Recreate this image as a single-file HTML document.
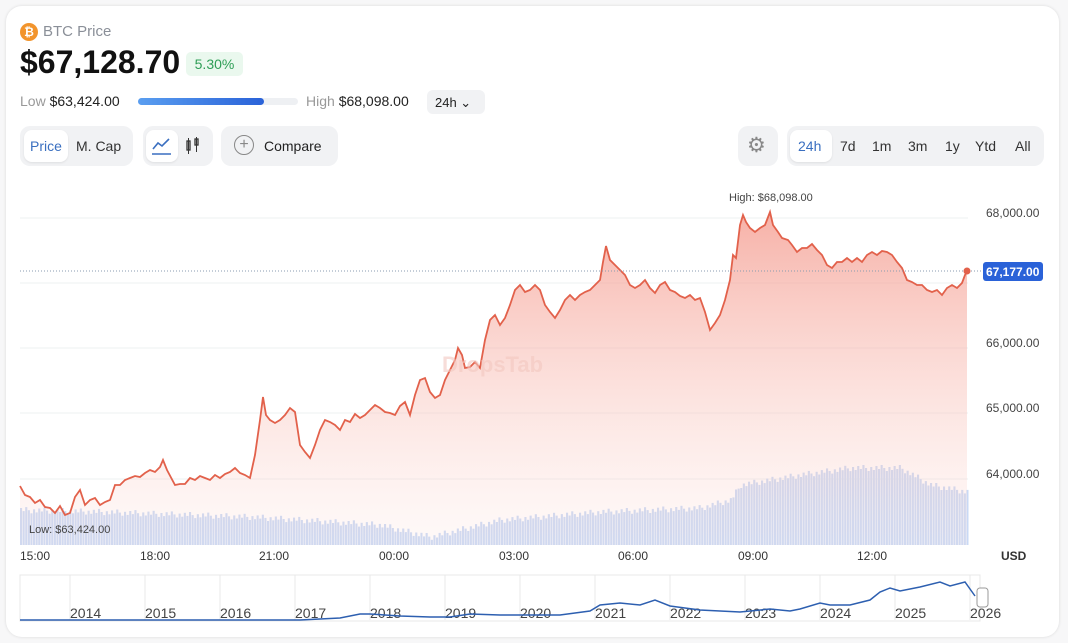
<!DOCTYPE html>
<html><head><meta charset="utf-8"><style>
body{margin:0;width:1068px;height:643px;background:#f7f7f8;font-family:"Liberation Sans",sans-serif;overflow:hidden;position:relative}
.card{position:absolute;left:6px;top:6px;width:1053px;height:631px;background:#fff;border-radius:16px;box-shadow:0 0 3px rgba(0,0,0,.12)}
.a{position:absolute;white-space:nowrap}
.pill{position:absolute;background:#f1f2f4;border-radius:10px}
.sel{position:absolute;background:#fff;border-radius:8px;box-shadow:0 1px 2px rgba(0,0,0,.08)}
</style></head><body>
<div class="card"></div>
<div class="a" style="left:20px;top:23px;width:18px;height:18px;border-radius:50%;background:#f2942c;color:#fff;font-size:12px;font-weight:bold;text-align:center;line-height:18px">₿</div>
<div class="a" style="left:43px;top:23px;font-size:15px;color:#8a8f98">BTC Price</div>
<div class="a" style="left:20px;top:44px;font-size:32px;font-weight:bold;color:#111">$67,128.70</div>
<div class="a" style="left:186px;top:52px;width:57px;height:24px;background:#eaf8ee;border-radius:5px;color:#2e9e56;font-size:14px;text-align:center;line-height:24px">5.30%</div>
<div class="a" style="left:20px;top:93px;font-size:14px;color:#999">Low <span style="color:#222">$63,424.00</span></div>
<div class="a" style="left:138px;top:98px;width:160px;height:7px;background:#eef0f3;border-radius:4px"></div>
<div class="a" style="left:138px;top:98px;width:126px;height:7px;background:linear-gradient(90deg,#5a9ef0,#2a62d8);border-radius:4px"></div>
<div class="a" style="left:306px;top:93px;font-size:14px;color:#999">High <span style="color:#222">$68,098.00</span></div>
<div class="pill" style="left:427px;top:90px;width:58px;height:24px;border-radius:6px"></div>
<div class="a" style="left:435px;top:95px;font-size:13px;color:#222">24h ⌄</div>

<div class="pill" style="left:20px;top:126px;width:113px;height:40px"></div>
<div class="sel" style="left:24px;top:130px;width:44px;height:32px"></div>
<div class="a" style="left:30px;top:138px;font-size:14px;color:#3a6fc0">Price</div>
<div class="a" style="left:76px;top:138px;font-size:14px;color:#333">M. Cap</div>
<div class="pill" style="left:143px;top:126px;width:70px;height:40px"></div>
<div class="sel" style="left:146px;top:130px;width:32px;height:32px"></div>
<svg class="a" style="left:150px;top:135px" width="24" height="22"><polyline points="3,14 8,8 12,11 19,4" fill="none" stroke="#3a6fc0" stroke-width="1.6"/><line x1="2" y1="19" x2="21" y2="19" stroke="#3a6fc0" stroke-width="1.6"/></svg>
<svg class="a" style="left:185px;top:136px" width="16" height="20"><rect x="2" y="5" width="3" height="9" fill="none" stroke="#333" stroke-width="1.3"/><line x1="3.5" y1="2" x2="3.5" y2="18" stroke="#333"/><rect x="10" y="3" width="3" height="6" fill="none" stroke="#333" stroke-width="1.3"/><line x1="11.5" y1="1" x2="11.5" y2="16" stroke="#333"/></svg>
<div class="pill" style="left:221px;top:126px;width:117px;height:40px"></div>
<div class="a" style="left:234px;top:135px;width:18px;height:18px;border:1.5px solid #888;border-radius:50%;color:#888;text-align:center;line-height:18px;font-size:16px">+</div>
<div class="a" style="left:264px;top:138px;font-size:14px;color:#222">Compare</div>

<div class="pill" style="left:738px;top:126px;width:40px;height:40px"></div>
<div class="a" style="left:747px;top:133px;font-size:21px;color:#888">⚙</div>
<div class="pill" style="left:787px;top:126px;width:257px;height:40px"></div>
<div class="sel" style="left:790px;top:130px;width:42px;height:32px"></div>
<div class="a" style="left:798px;top:138px;font-size:14px;color:#3a6fc0">24h</div>
<div class="a" style="left:840px;top:138px;font-size:14px;color:#333">7d</div>
<div class="a" style="left:872px;top:138px;font-size:14px;color:#333">1m</div>
<div class="a" style="left:908px;top:138px;font-size:14px;color:#333">3m</div>
<div class="a" style="left:945px;top:138px;font-size:14px;color:#333">1y</div>
<div class="a" style="left:975px;top:138px;font-size:14px;color:#333">Ytd</div>
<div class="a" style="left:1015px;top:138px;font-size:14px;color:#333">All</div>

<svg class="a" style="left:0;top:0" width="1068" height="643" id="s">
<defs><linearGradient id="g" x1="0" y1="0" x2="0" y2="1"><stop offset="0" stop-color="#f4978a" stop-opacity=".75"/><stop offset="1" stop-color="#fbd9d3" stop-opacity=".15"/></linearGradient></defs>
<g stroke="#eef0f2" stroke-width="1"><line x1="20" y1="218" x2="968" y2="218"/><line x1="20" y1="283" x2="968" y2="283"/><line x1="20" y1="348" x2="968" y2="348"/><line x1="20" y1="413" x2="968" y2="413"/><line x1="20" y1="479" x2="968" y2="479"/></g>
<g id="bars" fill="#c9d9f5"></g>
<path id="area" fill="url(#g)"/>
<polyline id="ln" fill="none" stroke="#e2614b" stroke-width="1.8"/>
<line x1="20" y1="271" x2="982" y2="271" stroke="#8a9bb0" stroke-dasharray="1,2"/>
<circle cx="967" cy="271" r="3.5" fill="#e2614b"/>
<text x="442" y="372" font-size="22" font-weight="bold" fill="#f3c8c0" opacity=".6">DropsTab</text>
<g font-size="12" fill="#444" font-family="Liberation Sans"><text x="986" y="217">68,000.00</text><text x="986" y="347">66,000.00</text><text x="986" y="412">65,000.00</text><text x="986" y="478">64,000.00</text>
<text x="729" y="201" font-size="11">High: $68,098.00</text><text x="29" y="533" font-size="11">Low: $63,424.00</text>
<g fill="#333"><text x="20" y="560">15:00</text><text x="140" y="560">18:00</text><text x="259" y="560">21:00</text><text x="379" y="560">00:00</text><text x="499" y="560">03:00</text><text x="618" y="560">06:00</text><text x="738" y="560">09:00</text><text x="857" y="560">12:00</text><text x="1001" y="560" font-weight="bold">USD</text></g></g>
<rect x="983" y="262" width="60" height="19" rx="3" fill="#2a62d8"/>
<text x="986" y="276" font-size="12" font-weight="bold" fill="#fff" font-family="Liberation Sans">67,177.00</text>
<g id="nav" stroke="#e8e8e8"></g>
<g id="yrs" font-size="14" fill="#444" font-family="Liberation Sans"></g>
<polyline points="20,620 300,620 340,618 360,614 370,614 400,616 430,617 450,617 470,614 500,615 560,615 590,611 600,605 620,603 640,605 655,600 670,606 700,610 740,612 770,609 790,611 800,609 820,603 830,605 850,605 870,600 880,592 890,588 900,591 920,587 940,582 950,586 965,582 975,596" fill="none" stroke="#2d5fb0" stroke-width="1.5"/>
<rect x="977" y="588" width="11" height="19" rx="3" fill="#fff" stroke="#999"/>
</svg>
<script>
var P=[[20,486],[25,495],[30,497],[35,503],[40,500],[45,507],[50,508],[55,513],[60,506],[65,515],[70,513],[75,497],[80,490],[85,505],[90,500],[95,498],[100,505],[105,502],[110,500],[115,485],[120,485],[125,480],[130,478],[135,476],[140,477],[145,473],[150,470],[155,472],[160,467],[163,460],[167,470],[175,485],[180,484],[185,484],[190,478],[195,480],[200,476],[205,478],[210,480],[215,475],[220,478],[225,474],[230,472],[235,468],[240,473],[245,475],[250,478],[255,455],[260,420],[263,397],[266,415],[270,420],[275,423],[280,420],[285,415],[290,408],[295,412],[300,445],[305,452],[310,458],[315,445],[320,430],[325,420],[330,422],[335,425],[340,430],[345,420],[350,422],[355,414],[360,418],[365,415],[370,410],[375,405],[380,408],[385,412],[390,413],[395,415],[400,406],[405,402],[410,415],[415,395],[420,380],[425,378],[430,392],[435,398],[440,395],[445,380],[450,370],[455,360],[458,348],[462,355],[465,368],[470,367],[475,362],[480,368],[485,340],[490,320],[495,315],[500,325],[505,318],[510,305],[515,290],[520,285],[525,292],[530,290],[535,285],[540,290],[545,305],[550,312],[555,318],[560,310],[565,300],[570,295],[575,300],[580,295],[585,292],[590,290],[595,285],[600,280],[603,262],[606,246],[610,260],[615,265],[620,270],[625,275],[630,285],[635,288],[640,285],[645,280],[650,288],[655,293],[660,285],[665,282],[670,290],[675,292],[680,296],[685,298],[690,295],[695,300],[700,298],[705,312],[710,330],[715,323],[720,315],[725,300],[730,280],[733,255],[736,258],[740,225],[743,215],[746,222],[750,228],[755,232],[760,228],[765,225],[770,212],[773,225],[778,232],[782,238],[788,240],[792,245],[797,252],[802,248],[807,248],[812,244],[817,250],[822,255],[827,265],[832,268],[837,262],[842,262],[847,258],[852,262],[857,258],[862,262],[867,255],[872,252],[877,255],[882,251],[887,252],[892,255],[897,262],[902,268],[907,280],[912,282],[917,285],[922,285],[927,290],[932,292],[937,290],[942,295],[947,288],[952,285],[957,288],[962,283],[965,275],[967,271]];
var s=P.map(function(p){return p.join(',')}).join(' ');
document.getElementById('ln').setAttribute('points',s);
document.getElementById('area').setAttribute('d','M'+s.replace(/ /g,' L')+' L967,545 L20,545 Z');
var V=[[20,510],[100,512],[250,517],[300,520],[380,525],[400,530],[430,537],[500,520],[600,512],[700,508],[730,500],[740,485],[800,475],[850,468],[900,468],[930,485],[967,492]];
function vy(x){for(var i=1;i<V.length;i++)if(x<=V[i][0]){var a=V[i-1],b=V[i];return a[1]+(b[1]-a[1])*(x-a[0])/(b[0]-a[0]);}return 492;}
var h='';for(var x=20;x<967;x+=2.6){var y=vy(x)+((Math.round(x*10)*7919)%7)-3;h+='<rect x="'+x.toFixed(1)+'" y="'+y.toFixed(1)+'" width="2.1" height="'+(545-y).toFixed(1)+'"/>';}
document.getElementById('bars').innerHTML=h;
var n='<rect x="20" y="575" width="960" height="46" fill="none"/>',t='';
for(var i=0;i<13;i++){var x=70+i*75;n+='<line x1="'+x+'" y1="575" x2="'+x+'" y2="620"/>';t+='<text x="'+x+'" y="618">'+(2014+i)+'</text>';}
document.getElementById('nav').innerHTML=n;document.getElementById('yrs').innerHTML=t;
</script>
</body></html>
